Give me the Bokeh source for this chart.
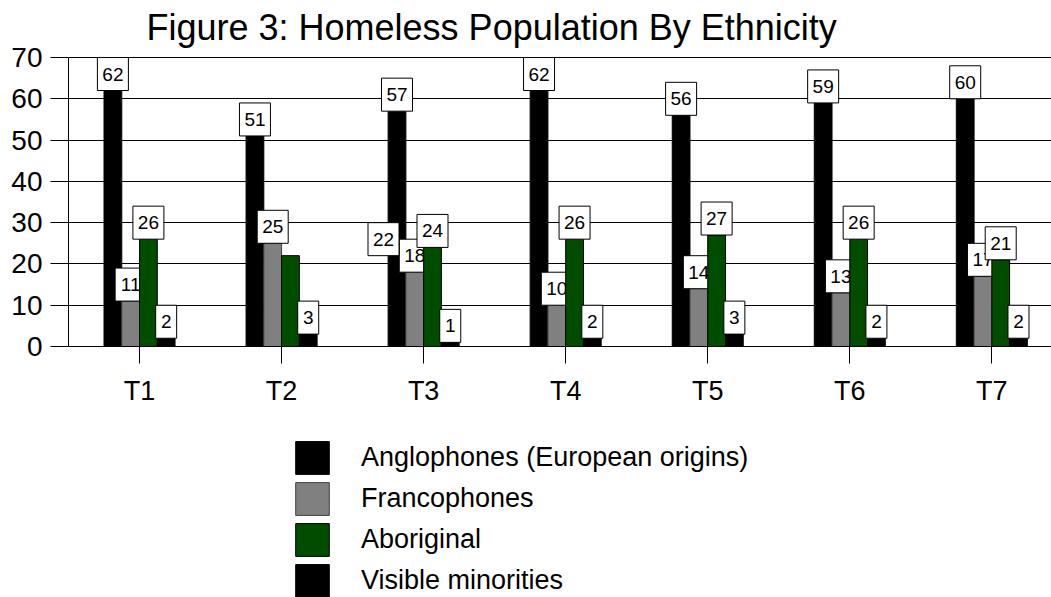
from bokeh.plotting import figure
from bokeh.layouts import column
from bokeh.models import ColumnDataSource, FixedTicker, Legend, LegendItem, Label
from bokeh.core.properties import value
from bokeh.embed import file_html
from bokeh.resources import INLINE

# ---- data ----
title_text = "Figure 3: Homeless Population By Ethnicity"
categories = ["T1", "T2", "T3", "T4", "T5", "T6", "T7"]
series_names = ["Anglophones (European origins)", "Francophones", "Aboriginal", "Visible minorities"]
anglophones = [62, 51, 57, 62, 56, 59, 60]
francophones = [11, 25, 18, 10, 14, 13, 17]
aboriginal = [26, 22, 24, 26, 27, 26, 21]
visible_minorities = [2, 3, 1, 2, 3, 2, 2]
y_ticks = [0, 10, 20, 30, 40, 50, 60, 70]

series_values = [anglophones, francophones, aboriginal, visible_minorities]

# ---- style ----
FONT = "Liberation Sans"
fills = ["#000000", "#808080", "#004d00", "#000000"]
outlines = ["#000000", "#404040", "#000000", "#000000"]
bar_w = 0.125
offsets = [-1.5, -0.5, 0.5, 1.5]
label_shift = {(2, 1): 0.655}   # one label sits displaced in the original
W = 1051
H1, H2 = 430, 167
B_LEFT = 68
FRAME_BOTTOM = 346        # canvas y of the value 0
PLOT_TOP = 57             # canvas y of the value 70
Y_MAX = 70
BOX_H = 33
ppu = (FRAME_BOTTOM - PLOT_TOP) / Y_MAX
y_top = FRAME_BOTTOM / ppu   # frame extends up to the canvas top (room for the title)
box_off = (BOX_H / 2) / ppu

p = figure(width=W, height=H1, x_range=(0, 6.92), y_range=(0, y_top),
           output_backend="svg", toolbar_location=None,
           min_border_left=B_LEFT, min_border_right=0, min_border_top=0,
           min_border_bottom=H1 - FRAME_BOTTOM)
p.outline_line_color = None
p.background_fill_color = "white"
p.border_fill_color = "white"

renderers = []
for k, vals in enumerate(series_values):
    xs = [i + 0.5 + offsets[k] * bar_w for i in range(len(categories))]
    src = ColumnDataSource(dict(x=xs, top=vals))
    r = p.vbar(x="x", top="top", bottom=0, width=bar_w, source=src,
               fill_color=fills[k], line_color=outlines[k], line_width=1)
    renderers.append(r)
    lx = [x + label_shift.get((k, i), 0.0) for i, x in enumerate(xs)]
    ly = [v + box_off for v in vals]
    txt = [str(v) for v in vals]
    bw = [10 * len(t) + 11 for t in txt]
    lsrc = ColumnDataSource(dict(x=lx, y=ly, t=txt, bw=bw))
    p.rect(x="x", y="y", width="bw", height=BOX_H, width_units="screen",
           height_units="screen", source=lsrc, fill_color="white",
           line_color="black", line_width=1)
    p.text(x="x", y="y", text="t", source=lsrc,
           text_font=value(FONT), text_font_size="19px", text_color="black",
           text_align="center", text_baseline="middle")

# title (inside the frame's upper margin)
p.add_layout(Label(x=78, y=FRAME_BOTTOM - 27, x_units="screen", y_units="screen",
                   text=title_text, text_font=FONT, text_font_size="36px",
                   text_color="black", text_align="left", text_baseline="alphabetic"))

# axes
p.xaxis.ticker = FixedTicker(ticks=[i + 0.5 for i in range(len(categories))])
p.xaxis.major_label_overrides = {i + 0.5: c for i, c in enumerate(categories)}
p.xaxis.major_tick_out = 17
p.xaxis.major_tick_in = 0
p.xaxis.minor_tick_out = 0
p.xaxis.minor_tick_in = 0
p.xaxis.major_label_standoff = 12
p.xaxis.major_label_text_font = FONT
p.xaxis.major_label_text_font_size = "27px"
p.xaxis.major_label_text_color = "black"
p.xaxis.axis_line_color = "black"
p.xaxis.major_tick_line_color = "black"

p.yaxis.ticker = FixedTicker(ticks=y_ticks)
p.yaxis.bounds = (0, Y_MAX)
p.yaxis.major_tick_out = 18
p.yaxis.major_tick_in = 0
p.yaxis.minor_tick_out = 0
p.yaxis.minor_tick_in = 0
p.yaxis.major_label_standoff = 8
p.yaxis.major_label_text_font = FONT
p.yaxis.major_label_text_font_size = "28px"
p.yaxis.major_label_text_color = "black"
p.yaxis.axis_line_color = "black"
p.yaxis.major_tick_line_color = "black"

p.xgrid.visible = False
p.ygrid.ticker = FixedTicker(ticks=y_ticks)
p.ygrid.grid_line_color = "black"
p.ygrid.grid_line_width = 1

# legend figure (proxy bars lie outside its visible range)
p2 = figure(width=W, height=H2, x_range=(0, 1), y_range=(0, 1),
            output_backend="svg", toolbar_location=None,
            x_axis_type=None, y_axis_type=None, min_border=0)
p2.outline_line_color = None
p2.xgrid.visible = False
p2.ygrid.visible = False
leg_r = []
for k in range(len(series_names)):
    leg_r.append(p2.vbar(x=[-5], top=[-5], bottom=[-6], width=0.1, fill_color=fills[k],
                         line_color=outlines[k], line_width=1))
legend = Legend(items=[LegendItem(label=n, renderers=[r]) for n, r in zip(series_names, leg_r)],
                location=(223, -4), orientation="vertical",
                glyph_width=42, glyph_height=41, spacing=0, label_standoff=28,
                padding=0, margin=0, border_line_color=None, background_fill_alpha=0,
                label_text_font=FONT, label_text_font_size="27px",
                label_text_color="black", label_text_baseline="middle")
p2.add_layout(legend)

open("out.html", "w").write(file_html(column(p, p2, spacing=0), INLINE))
